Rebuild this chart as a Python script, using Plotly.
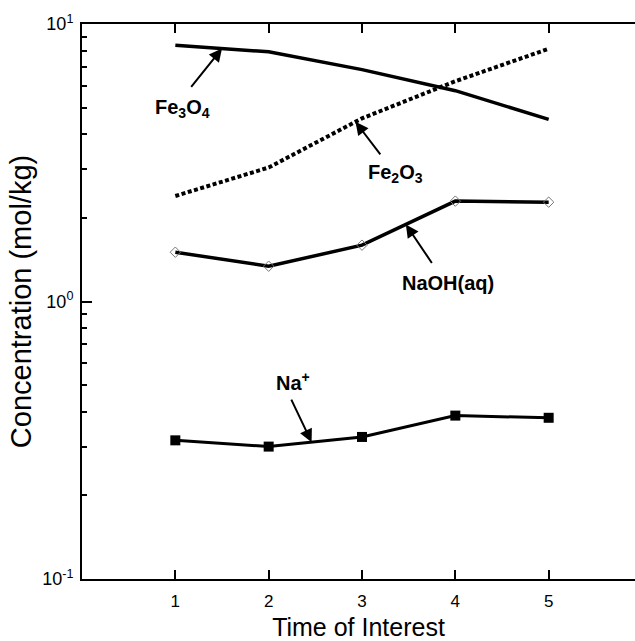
import numpy as np
import plotly.graph_objects as go

time = [1, 2, 3, 4, 5]
fe3o4 = [8.39, 7.94, 6.85, 5.75, 4.53]
fe2o3 = [2.40, 3.04, 4.57, 6.22, 8.14]
naoh = [1.505, 1.340, 1.596, 2.30, 2.28]
na_ion = [0.316, 0.300, 0.325, 0.388, 0.381]

y_ticks = [0.1, 1, 10]
y_ticktext = ["10<sup>-1</sup>", "10<sup>0</sup>", "10<sup>1</sup>"]
y_minor = [v * m for v in (0.1, 1) for m in range(2, 10)]

FONT = "Liberation Sans, Arial, sans-serif"

fig = go.Figure()
fig.add_trace(go.Scatter(x=time, y=fe3o4, mode="lines", name="Fe3O4",
                         line=dict(color="black", width=3.5)))
fig.add_trace(go.Scatter(x=time, y=fe2o3, mode="lines", name="Fe2O3",
                         line=dict(color="black", width=4, dash="4px,2.5px")))
fig.add_trace(go.Scatter(x=time, y=naoh, mode="lines+markers", name="NaOH(aq)",
                         line=dict(color="black", width=3.5),
                         marker=dict(symbol="diamond-open", size=8, color="#777",
                                     line=dict(width=1))))
fig.add_trace(go.Scatter(x=time, y=na_ion, mode="lines+markers", name="Na+",
                         line=dict(color="black", width=3),
                         marker=dict(symbol="square", size=10, color="black")))


def tip_y(series, x):
    return float(np.interp(x, time, np.log10(series)))


arrows = [
    (fe3o4, 1.50, -32, 40),
    (fe2o3, 2.93, 26, 34),
    (naoh, 3.47, 27, 40),
    (na_ion, 2.46, -21, -44),
]
for series, x, ax, ay in arrows:
    fig.add_annotation(x=x, y=tip_y(series, x), ax=ax, ay=ay, text="",
                       showarrow=True, arrowhead=2, arrowsize=1.3,
                       arrowwidth=2, arrowcolor="black")

labels = [
    ("Fe<sub>3</sub>O<sub>4</sub>", 1.08, 0.695),
    ("Fe<sub>2</sub>O<sub>3</sub>", 3.364, 0.462),
    ("NaOH(aq)", 3.921, 0.065),
    ("Na<sup>+</sup>", 2.26, -0.288),
]
for txt, x, y in labels:
    fig.add_annotation(x=x, y=y, text="<b>" + txt + "</b>", showarrow=False,
                       font=dict(family=FONT, size=20, color="black"),
                       xanchor="center", yanchor="middle")

# small right-hand major tick visible at the edge
fig.add_shape(type="line", xref="paper", yref="y", x0=0.984, x1=1.0,
              y0=0, y1=0, line=dict(color="black", width=1.5))

fig.update_layout(
    width=635, height=641,
    margin=dict(l=82, r=0, t=24, b=62),
    paper_bgcolor="white", plot_bgcolor="white",
    showlegend=False,
    font=dict(family=FONT, color="black", size=16),
    xaxis=dict(range=[0, 5.925], tickvals=time, ticks="inside", ticklen=9,
               tickwidth=1.5, tickcolor="black", showline=True, linewidth=2,
               linecolor="black", mirror="ticks", showgrid=False, zeroline=False,
               ticklabelstandoff=6, tickfont=dict(size=17),
               title=dict(text="Time of Interest", font=dict(size=25), standoff=9)),
    yaxis=dict(type="log", range=[-1, 1], tickvals=y_ticks, ticktext=y_ticktext,
               ticks="inside", ticklen=10, tickwidth=1.5, tickcolor="black",
               showline=True, linewidth=2, linecolor="black", showgrid=False,
               zeroline=False, ticklabelstandoff=3, tickfont=dict(size=18),
               minor=dict(tickvals=y_minor, ticks="inside", ticklen=5,
                          tickwidth=1.5, tickcolor="black", showgrid=False),
               title=dict(text="Concentration (mol/kg)", font=dict(size=29), standoff=2)),
)

fig.write_html("out.html")
